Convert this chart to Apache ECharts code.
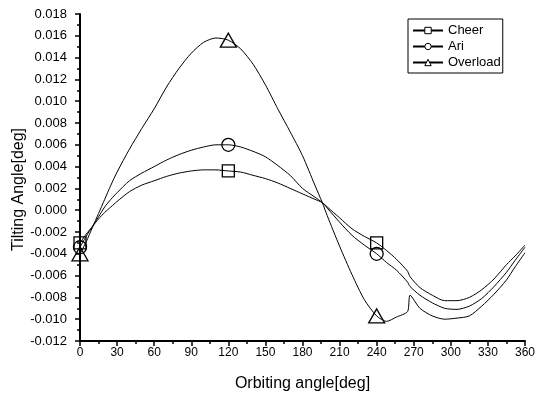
<!DOCTYPE html>
<html>
<head>
<meta charset="utf-8">
<script src="https://cdn.jsdelivr.net/npm/echarts@6/dist/echarts.min.js"></script>
<style>
  html, body { margin: 0; padding: 0; background: #fff; }
  #chart { width: 536px; height: 396px; }
</style>
</head>
<body>
<div id="chart"></div>
<script>
// orbiting angle [deg], shared by all three series
const angles = [0, 5, 10, 15, 20, 25, 30, 40, 50, 60, 70, 80, 90, 100, 110, 120, 130, 140, 150, 160, 170, 180, 190, 196, 200, 210, 220, 230, 240, 248, 256, 265, 267, 275, 285, 295, 305, 315, 325, 335, 345, 352, 360];

// tilting angle [deg]
const cheer = [-0.0030, -0.0022, -0.0015, -0.0008, -0.0002, 0.0003, 0.0008, 0.0017, 0.0023, 0.0027, 0.0031, 0.0034, 0.0036, 0.0037, 0.0037, 0.0036, 0.0035, 0.0032, 0.0029, 0.0025, 0.0020, 0.0015, 0.0010, 0.0007, 0.0003, -0.0007, -0.0017, -0.0024, -0.0030, -0.0037, -0.0045, -0.0056, -0.0061, -0.0071, -0.0078, -0.0083, -0.0083, -0.0080, -0.0073, -0.0063, -0.0050, -0.0042, -0.0032];
const ari = [-0.0034, -0.0024, -0.0015, -0.0006, 0.0003, 0.0010, 0.0016, 0.0027, 0.0034, 0.0040, 0.0046, 0.0051, 0.0055, 0.0058, 0.0060, 0.0060, 0.0058, 0.0054, 0.0049, 0.0041, 0.0032, 0.0020, 0.0012, 0.0007, 0.0002, -0.0011, -0.0023, -0.0032, -0.0040, -0.0048, -0.0055, -0.0066, -0.0070, -0.0078, -0.0085, -0.0090, -0.0091, -0.0088, -0.0081, -0.0070, -0.0057, -0.0046, -0.0034];
const overload = [-0.0040, -0.0029, -0.0016, -0.0003, 0.0010, 0.0023, 0.0035, 0.0056, 0.0075, 0.0093, 0.0113, 0.0130, 0.0144, 0.0154, 0.0158, 0.0156, 0.0148, 0.0134, 0.0115, 0.0093, 0.0072, 0.0050, 0.0023, 0.0007, -0.0005, -0.0033, -0.0059, -0.0082, -0.0097, -0.0102, -0.0098, -0.0093, -0.0078, -0.0090, -0.0097, -0.0100, -0.0099, -0.0097, -0.0088, -0.0077, -0.0064, -0.0052, -0.0039];

// markers only drawn at these angles
const markerAngles = [0, 120, 240];

const xTicks = { min: 0, max: 360, step: 30 };
const yTicks = { min: -0.012, max: 0.018, step: 0.002 };

const font = 'Liberation Sans, Arial, sans-serif';

const chart = echarts.init(document.getElementById('chart'));

const makeSeries = (name, values, symbol, size) => ({
  name,
  type: 'line',
  data: angles.map((a, i) => [a, values[i]]),
  smooth: 0.25,
  symbol,
  symbolSize: (val) => (markerAngles.includes(val[0]) ? size : 0),
  showSymbol: true,
  showAllSymbol: true,
  lineStyle: { color: '#000', width: 1 },
  itemStyle: { color: 'rgba(0,0,0,0)', borderColor: '#000', borderWidth: 1.3 },
  emphasis: { disabled: true },
  z: 2
});

const option = {
  backgroundColor: '#fff',
  animation: false,
  textStyle: { fontFamily: font },
  grid: { left: 80, right: 11, top: 14, bottom: 55, outerBoundsMode: 'none' },
  legend: {
    orient: 'vertical',
    left: 408,
    top: 19,
    padding: [5, 2, 4, 4],
    itemGap: 3,
    itemWidth: 30,
    itemHeight: 8,
    borderColor: '#000',
    borderWidth: 1,
    itemStyle: { color: '#fff', borderColor: '#000', borderWidth: 1 },
    textStyle: { fontFamily: font, fontSize: 13, color: '#000' },
    data: ['Cheer', 'Ari', 'Overload']
  },
  xAxis: {
    type: 'value',
    min: xTicks.min,
    max: xTicks.max,
    interval: xTicks.step,
    name: 'Orbiting angle[deg]',
    nameLocation: 'middle',
    nameGap: 35,
    nameMoveOverlap: false,
    nameTextStyle: { fontFamily: font, fontSize: 16, color: '#000' },
    axisLine: { onZero: false, lineStyle: { color: '#000', width: 2 } },
    axisTick: { length: 5, lineStyle: { color: '#000', width: 1.5 } },
    minorTick: { show: true, splitNumber: 2, length: 3, lineStyle: { color: '#000', width: 1.5 } },
    axisLabel: { color: '#000', fontSize: 12, margin: 6 },
    splitLine: { show: false }
  },
  yAxis: {
    type: 'value',
    min: yTicks.min,
    max: yTicks.max,
    interval: yTicks.step,
    name: 'Tilting Angle[deg]',
    nameLocation: 'middle',
    nameGap: 53,
    nameMoveOverlap: false,
    nameTextStyle: { fontFamily: font, fontSize: 16, color: '#000', padding: [0, 24, 0, 0] },
    axisLine: { onZero: false, lineStyle: { color: '#000', width: 2 } },
    axisTick: { length: 5, lineStyle: { color: '#000', width: 1.5 } },
    minorTick: { show: true, splitNumber: 2, length: 3, lineStyle: { color: '#000', width: 1.5 } },
    axisLabel: { color: '#000', fontSize: 13, margin: 13, formatter: (v) => v.toFixed(3) },
    splitLine: { show: false }
  },
  series: [
    makeSeries('Cheer', cheer, 'rect', 12),
    makeSeries('Ari', ari, 'circle', 13),
    makeSeries('Overload', overload, 'triangle', [16, 14])
  ]
};

chart.setOption(option);
</script>
</body>
</html>
